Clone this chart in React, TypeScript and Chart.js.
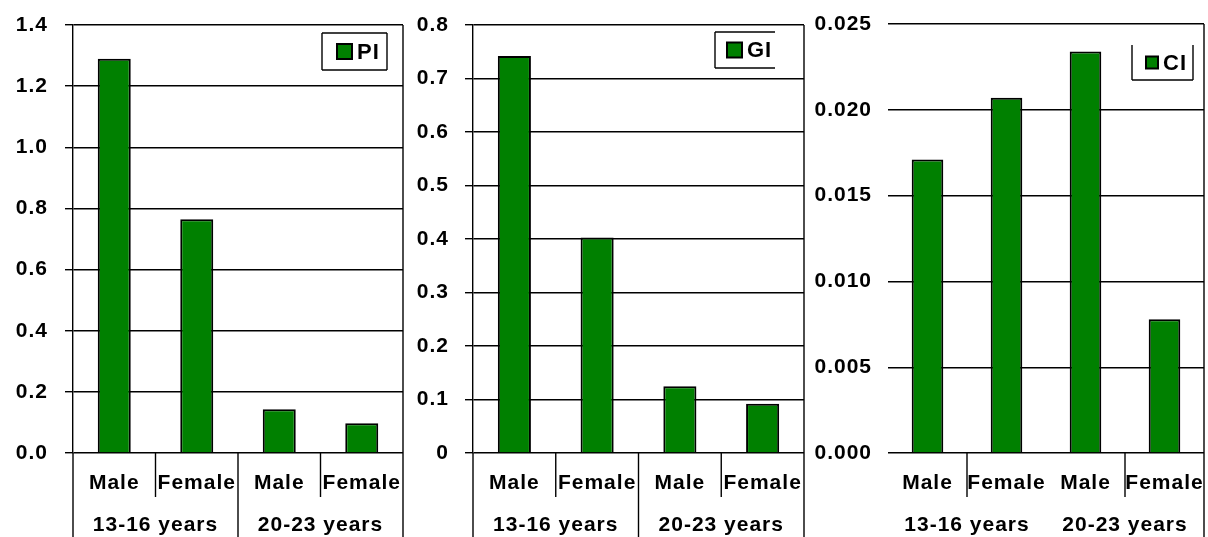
import React, { useEffect, useRef } from "react";
import { Chart, registerables } from "chart.js";

Chart.register(...registerables);

const categories = ["Male", "Female", "Male", "Female"];
const groups = ["13-16 years", "20-23 years"];
const piValues = [1.29, 0.765, 0.143, 0.097];
const giValues = [0.742, 0.403, 0.125, 0.092];
const ciValues = [0.0171, 0.0207, 0.0234, 0.0078];

const FONT = "'Liberation Sans', Arial, sans-serif";
const GREEN = "#008000";

type PanelCfg = {
  label: string;
  values: number[];
  max: number;
  step: number;
  fmt: (v: number) => string;
  left: number;
  width: number;
  axisWidth: number;
  top: number;
  right: number;
  tickLen: number;
  tickPad: number;
  showAxisLine: boolean;
  groupDivider: boolean;
  extendSides: boolean;
  legend: { x: number; y: number; w: number; h: number; sides: string; sq: number; tx: number };
};

const panels: PanelCfg[] = [
  {
    label: "PI", values: piValues, max: 1.4, step: 0.2, fmt: (v) => v.toFixed(1),
    left: 0, width: 406, axisWidth: 73, top: 25, right: 3, tickLen: 8, tickPad: 17,
    showAxisLine: true, groupDivider: true, extendSides: true,
    legend: { x: 322, y: 33, w: 65, h: 37, sides: "ltrb", sq: 15, tx: 357 },
  },
  {
    label: "GI", values: giValues, max: 0.8, step: 0.1, fmt: (v) => (v === 0 ? "0" : v.toFixed(1)),
    left: 406, width: 402, axisWidth: 67, top: 25, right: 4, tickLen: 8, tickPad: 16,
    showAxisLine: true, groupDivider: true, extendSides: true,
    legend: { x: 715 - 406, y: 32, w: 60, h: 36, sides: "ltb", sq: 15, tx: 747 - 406 },
  },
  {
    label: "CI", values: ciValues, max: 0.025, step: 0.005, fmt: (v) => v.toFixed(3),
    left: 808, width: 400, axisWidth: 80, top: 24, right: 4, tickLen: 0, tickPad: 16,
    showAxisLine: false, groupDivider: false, extendSides: false,
    legend: { x: 1132 - 808, y: 45, w: 61, h: 35, sides: "lrb", sq: 12, tx: 1163 - 808 },
  },
];

function Panel({ cfg }: { cfg: PanelCfg }) {
  const ref = useRef<HTMLCanvasElement | null>(null);
  useEffect(() => {
    if (!ref.current) return;
    const H = 537;
    const decor = {
      id: "decor",
      beforeDraw(chart: any) {
        (chart.ctx as any).letterSpacing = "1px";
      },
      afterDraw(chart: any) {
        const ctx = chart.ctx as CanvasRenderingContext2D;
        const area = chart.chartArea;
        const xs = chart.scales.x;
        const n = categories.length;
        const px = (i: number) => xs.getPixelForValue(i);
        const bound = (i: number) => (px(i) + px(i + 1)) / 2;
        ctx.save();
        (ctx as any).letterSpacing = "1px";
        ctx.strokeStyle = "#000";
        ctx.lineWidth = 1.4;
        const line = (x1: number, y1: number, x2: number, y2: number) => {
          ctx.beginPath();
          ctx.moveTo(x1, y1);
          ctx.lineTo(x2, y2);
          ctx.stroke();
        };
        // right border
        line(area.right, area.top, area.right, H);
        if (cfg.extendSides) line(area.left, area.bottom, area.left, H);
        // category dividers
        for (let g = 0; g < groups.length; g++) {
          const b = bound(g * 2);
          line(b, area.bottom, b, area.bottom + 44);
        }
        if (cfg.groupDivider) {
          const b = bound(1);
          line(b, area.bottom, b, H);
        }
        // labels
        ctx.fillStyle = "#000";
        ctx.font = `bold 21px ${FONT}`;
        ctx.textAlign = "center";
        ctx.textBaseline = "middle";
        for (let i = 0; i < n; i++) {
          ctx.fillText(categories[i], px(i), area.bottom + 30);
        }
        for (let g = 0; g < groups.length; g++) {
          ctx.fillText(groups[g], bound(g * 2), area.bottom + 72);
        }
        // legend
        const L = cfg.legend;
        ctx.lineWidth = 1.4;
        if (L.sides.includes("l")) line(L.x, L.y, L.x, L.y + L.h);
        if (L.sides.includes("t")) line(L.x, L.y, L.x + L.w, L.y);
        if (L.sides.includes("r")) line(L.x + L.w, L.y, L.x + L.w, L.y + L.h);
        if (L.sides.includes("b")) line(L.x, L.y + L.h, L.x + L.w, L.y + L.h);
        const sqx = L.tx - L.sq - 5;
        const sqy = L.y + L.h / 2 - L.sq / 2;
        ctx.fillStyle = GREEN;
        ctx.fillRect(sqx, sqy, L.sq, L.sq);
        ctx.lineWidth = 2;
        ctx.strokeRect(sqx, sqy, L.sq, L.sq);
        ctx.fillStyle = "#000";
        ctx.textAlign = "left";
        ctx.font = `bold 22px ${FONT}`;
        ctx.fillText(cfg.label, L.tx, L.y + L.h / 2 + 1);
        ctx.restore();
      },
    };
    const chart = new Chart(ref.current, {
      type: "bar",
      data: {
        labels: categories,
        datasets: [
          {
            label: cfg.label,
            data: cfg.values,
            backgroundColor: GREEN,
            borderColor: "#000",
            borderWidth: 2,
            categoryPercentage: 1,
            barPercentage: 0.4,
          },
        ],
      },
      options: {
        animation: false,
        responsive: false,
        devicePixelRatio: 1,
        layout: { padding: { top: cfg.top, right: cfg.right, bottom: 537 - 453, left: 0 } },
        plugins: { legend: { display: false }, tooltip: { enabled: false } },
        scales: {
          x: { display: false },
          y: {
            min: 0,
            max: cfg.max,
            afterFit: (s: any) => {
              s.width = cfg.axisWidth;
              s.paddingTop = 0;
              s.paddingBottom = 0;
            },
            ticks: {
              stepSize: cfg.step,
              padding: cfg.tickPad,
              color: "#000",
              font: { family: FONT, size: 21, weight: "bold" },
              callback: (v: any) => cfg.fmt(Number(v)),
            },
            grid: {
              color: "#000",
              lineWidth: 1.4,
              drawTicks: cfg.tickLen > 0,
              tickLength: cfg.tickLen,
            },
            border: { display: cfg.showAxisLine, color: "#000", width: 1.4 },
          },
        },
      } as any,
      plugins: [decor],
    });
    return () => chart.destroy();
  }, [cfg]);
  return (
    <canvas
      ref={ref}
      width={cfg.width}
      height={537}
      style={{ position: "absolute", left: cfg.left, top: 0, width: cfg.width, height: 537 }}
    />
  );
}

export default function App() {
  return (
    <div style={{ position: "absolute", left: 0, top: 0, width: 1208, height: 537, background: "#fff", overflow: "hidden" }}>
      {panels.map((p) => (
        <Panel key={p.label} cfg={p} />
      ))}
    </div>
  );
}
